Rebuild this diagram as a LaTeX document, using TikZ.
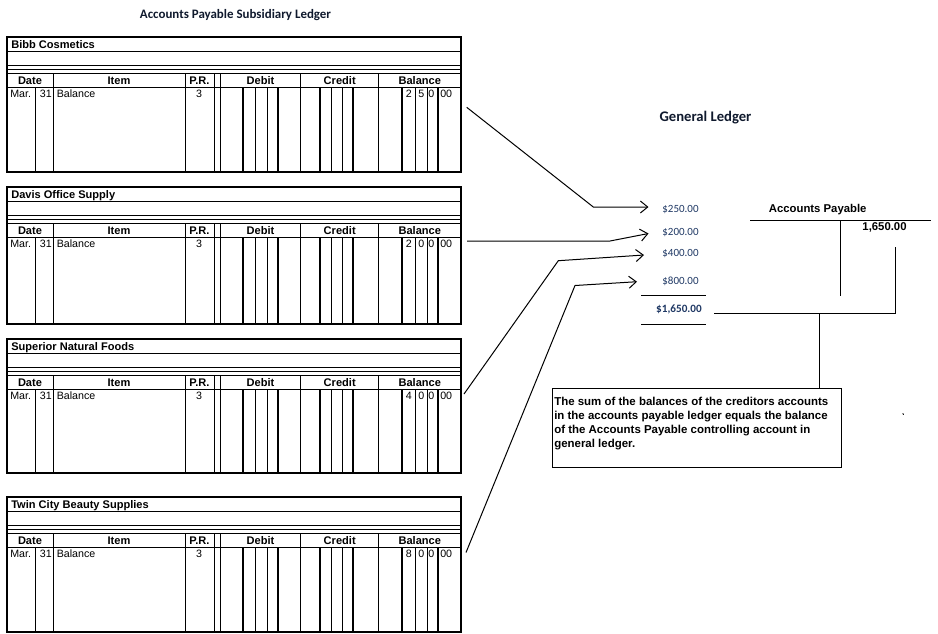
\documentclass[tikz,border=0pt]{standalone}
\usepackage{fontspec}
\setmainfont{Liberation Sans}
\newfontfamily\calfont{Carlito}
\usetikzlibrary{arrows.meta,calc}
\definecolor{amt}{RGB}{31,56,100}
\definecolor{ttl}{RGB}{15,25,45}
\tikzset{
  frame/.style={line width=1.5pt},
  rulethin/.style={line width=0.75pt},
  rulethick/.style={line width=1.5pt},
  ltitle/.style={anchor=base west, inner sep=0, font=\bfseries\fontsize{8.3}{10}\selectfont},
  lhead/.style={anchor=base, inner sep=0, font=\bfseries\fontsize{8.3}{10}\selectfont},
  lbody/.style={inner sep=0, font=\fontsize{8}{10}\selectfont},
  amount/.style={inner sep=0, text=amt, font=\calfont\fontsize{8.25}{10}\selectfont},
  gtitle/.style={inner sep=0, text=ttl, font=\calfont\bfseries},
  conn/.style={line width=0.75pt, -{Straight Barb[length=5.5pt,width=9pt]}},
  plain/.style={line width=0.75pt},
  tlabel/.style={inner sep=0, font=\bfseries\fontsize{8.5}{10}\selectfont},
}
\newcommand\ledgerbox[7]{%
\begin{scope}[shift={(0,#1)}]
  \draw[rulethin] (7,14) -- (461,14) (7,28) -- (461,28) (7,32) -- (461,32)
                  (7,36) -- (461,36) (7,50) -- (461,50);
  \foreach \x in {53.3,185,214.3,220.3,300.7,378.7} \draw[rulethin] (\x,36) -- (\x,#2);
  \draw[rulethin] (35.7,50) -- (35.7,#2);
  \foreach \x in {255.3,267.7,331.7,342.7,415,427.3} \draw[rulethin] (\x,50) -- (\x,#2);
  \foreach \x in {242.7,278.3,320,353.3,401.7,437.7} \draw[rulethick] (\x,50) -- (\x,#2);
  \draw[frame] (7,0) rectangle (461,#2);
  \node[ltitle] (#7title) at (11,11) {#3};
  \node[lhead] (#7hdate) at (30,47) {Date};
  \node[lhead] (#7hitem) at (119,47) {Item};
  \node[lhead] (#7hpr) at (199.5,47) {P.R.};
  \node[lhead] (#7hdeb) at (260.5,47) {Debit};
  \node[lhead] (#7hcred) at (339.7,47) {Credit};
  \node[lhead] (#7hbal) at (419.8,47) {Balance};
  \node[lbody, anchor=base west] (#7mon) at (10,60.5) {Mar.};
  \node[lbody, anchor=base east] (#7day) at (52,60.5) {31};
  \node[lbody, anchor=base west] (#7item) at (56.5,60.5) {Balance};
  \node[lbody, anchor=base] (#7pr) at (199,60.5) {3};
  \node[lbody, anchor=base east] (#7da) at (412,60.5) {#4};
  \node[lbody, anchor=base east] (#7db) at (424.5,60.5) {#5};
  \node[lbody, anchor=base east] (#7dc) at (434.5,60.5) {#6};
  \node[lbody, anchor=base west] (#7dd) at (440,60.5) {00};
\end{scope}}

\begin{document}
\begin{tikzpicture}[x=0.75pt, y=-0.75pt]
  \useasboundingbox (0,0) rectangle (938,633);

  \node[gtitle, font=\calfont\bfseries\fontsize{9.7}{11}\selectfont] (subtitle) at (235.5,15.5) {Accounts Payable Subsidiary Ledger};
  \node[gtitle, font=\calfont\bfseries\fontsize{11}{13}\selectfont] (gltitle) at (705.5,117.5) {General Ledger};

  \ledgerbox{37}{135}{Bibb Cosmetics}{2}{5}{0}{L1}
  \ledgerbox{187}{137}{Davis Office Supply}{2}{0}{0}{L2}
  \ledgerbox{339}{134}{Superior Natural Foods}{4}{0}{0}{L3}
  \ledgerbox{497}{135}{Twin City Beauty Supplies}{8}{0}{0}{L4}

  % amounts
  \node[amount] (a250) at (680.5,209.5) {\$250.00};
  \node[amount] (a200) at (680.5,232.5) {\$200.00};
  \node[amount] (a400) at (680.5,253.5) {\$400.00};
  \node[amount] (a800) at (680.5,281.5) {\$800.00};
  \node[amount, font=\calfont\bfseries\fontsize{8.4}{10}\selectfont] (atot) at (679,309.5) {\$1,650.00};
  \coordinate (u1) at (641,295);  \coordinate (u2) at (706,295);
  \coordinate (w1) at (641,324);  \coordinate (w2) at (706,324);
  \draw[plain] (u1) -- (u2);
  \draw[plain] (w1) -- (w2);

  % connectors
  \coordinate (s1) at (466.7,107.3); \coordinate (m1) at (593.3,207);   \coordinate (t1) at (648.5,207);
  \coordinate (s2) at (467,241);     \coordinate (m2) at (610,241);     \coordinate (t2) at (648.5,233.5);
  \coordinate (s3) at (464,394);     \coordinate (m3) at (558.3,260.7); \coordinate (t3) at (644,255);
  \coordinate (s4) at (466,552.5);   \coordinate (m4) at (575,285.5);   \coordinate (t4) at (637,281.7);
  \draw[conn] (s1) -- (m1) -- (t1);
  \draw[conn] (s2) -- (m2) -- (t2);
  \draw[conn] (s3) -- (m3) -- (t3);
  \draw[conn] (s4) -- (m4) -- (t4);

  % T account
  \node[tlabel] (ap) at (817.7,210) {Accounts Payable};
  \node[tlabel] (apbal) at (884.5,227.5) {1,650.00};
  \coordinate (h1) at (750,220.7); \coordinate (h2) at (930.7,220.7);
  \coordinate (v1) at (840.7,220.7); \coordinate (v2) at (840.7,295.7);
  \draw[plain] (h1) -- (h2);
  \draw[plain] (v1) -- (v2);

  % link total -> account -> note
  \coordinate (k1) at (714.3,313.3); \coordinate (k2) at (895,313.3); \coordinate (k3) at (895,247.3);
  \coordinate (j1) at (819.3,313.3);
  \draw[plain] (k1) -- (k2) -- (k3);
  \node[draw, line width=0.75pt, anchor=north west, minimum width=289*0.75pt, minimum height=79*0.75pt, inner sep=0] (note) at (551.7,388.3) {};
  \draw[plain] (j1) -- (j1 |- note.north);
  \node[anchor=north west, align=left, inner sep=0, font=\bfseries\fontsize{8.6}{10.7}\selectfont] (notetext) at (554,396.5)
    {The sum of the balances of the creditors accounts\\
     in the accounts payable ledger equals the balance\\
     of the Accounts Payable controlling account in\\
     general ledger.};
  \coordinate (dot1) at (902.8,413.3); \coordinate (dot2) at (903.6,414.8);
  \draw[line width=0.6pt] (dot1) -- (dot2);
\end{tikzpicture}
\end{document}
